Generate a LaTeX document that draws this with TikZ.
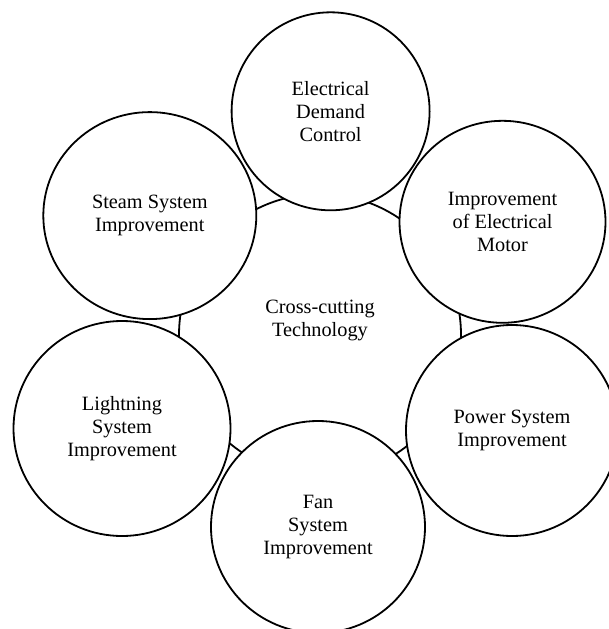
\documentclass[tikz,border=0pt]{standalone}
\usepackage{fontspec}
\setmainfont{Liberation Serif}
\usetikzlibrary{shapes.geometric}
\tikzset{
  bubble/.style={ellipse, draw=black, line width=1.8pt, fill=white, align=center,
    inner sep=0pt, font=\fontsize{20.3}{23}\selectfont, text=black},
  hubring/.style={circle, draw=black, line width=1.8pt, inner sep=0pt},
  hublabel/.style={align=center, inner sep=0pt, font=\fontsize{20.3}{23}\selectfont, text=black}
}
\begin{document}
\begin{tikzpicture}[x=1pt,y=-1pt]
\useasboundingbox (0,0) rectangle (609,629);
\fill[white] (0,0) rectangle (609,629);
\clip (0,0) rectangle (609,629);
% central circle
\node[hubring, minimum size=282pt] (hub) at (320,335) {};
\node[hublabel] (hubtext) at (320,320) {Cross-cutting\\Technology};
% outer circles
\node[bubble, minimum width=198pt, minimum height=198pt] (edc) at (330.6,111.3) {Electrical\\Demand\\Control};
\node[bubble, minimum width=206pt, minimum height=202pt] (motor) at (502.5,221.8) {Improvement\\of Electrical\\Motor};
\node[bubble, minimum width=212pt, minimum height=211pt] (power) at (512,430.5) {Power System\\Improvement};
\node[bubble, minimum width=214pt, minimum height=212pt] (fan) at (318,527) {Fan\\System\\Improvement};
\node[bubble, minimum width=217pt, minimum height=215pt] (light) at (122,428.5) {Lightning\\System\\Improvement};
\node[bubble, minimum width=213pt, minimum height=207pt] (steam) at (149.8,215.6) {Steam System\\Improvement};
\end{tikzpicture}
\end{document}
